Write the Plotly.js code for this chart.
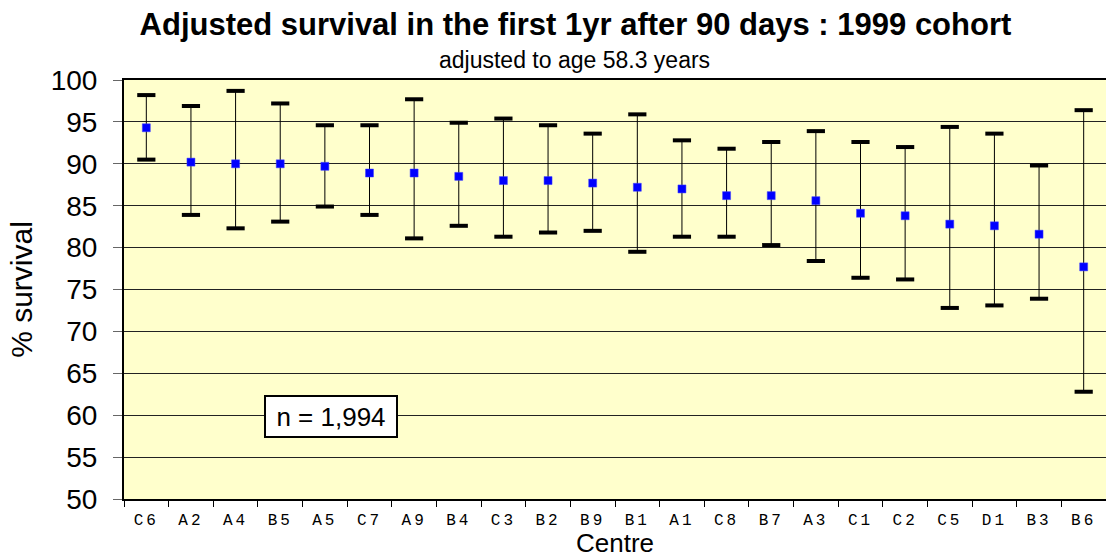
<!DOCTYPE html>
<html>
<head>
<meta charset="utf-8">
<script src="https://cdn.plot.ly/plotly-3.0.1.min.js"></script>
<style>
  html, body { margin: 0; padding: 0; background: #ffffff; }
  #chart { width: 1106px; height: 558px; }
  .xtick text { letter-spacing: 3px; }
</style>
</head>
<body>
<div id="chart"></div>
<script>
// Centres in display order
var centres = ["C6","A2","A4","B5","A5","C7","A9","B4","C3","B2","B9","B1","A1","C8","B7","A3","C1","C2","C5","D1","B3","B6"];
// Adjusted % survival (point estimate)
var survival = [94.3, 90.2, 90.0, 90.0, 89.7, 88.9, 88.9, 88.5, 88.0, 88.0, 87.7, 87.2, 87.0, 86.2, 86.2, 85.6, 84.1, 83.8, 82.8, 82.6, 81.6, 77.7];
// Upper confidence limit
var upper = [98.2, 96.9, 98.7, 97.2, 94.6, 94.6, 97.7, 94.9, 95.4, 94.6, 93.6, 95.9, 92.8, 91.8, 92.6, 93.9, 92.6, 92.0, 94.4, 93.6, 89.8, 96.4];
// Lower confidence limit
var lower = [90.5, 83.9, 82.3, 83.1, 84.9, 83.9, 81.1, 82.6, 81.3, 81.8, 82.0, 79.5, 81.3, 81.3, 80.3, 78.4, 76.4, 76.2, 72.8, 73.1, 73.9, 62.8];
// Y tick values
var yTicks = [50, 55, 60, 65, 70, 75, 80, 85, 90, 95, 100];

var plus = survival.map(function (v, i) { return upper[i] - v; });
var minus = survival.map(function (v, i) { return v - lower[i]; });

var capStyle = {
  symbol: 'line-ew', size: 13, color: '#000000',
  line: { color: '#000000', width: 4 }
};

var traces = [
  {
    type: 'scatter', mode: 'markers', x: centres, y: survival,
    marker: { symbol: 'square', size: 8, color: '#0000FF', line: { color: '#4040ff', width: 0.5 } },
    error_y: { type: 'data', symmetric: false, array: plus, arrayminus: minus,
               thickness: 1, width: 0, color: '#000000' },
    hoverinfo: 'x+y', showlegend: false
  },
  { type: 'scatter', mode: 'markers', x: centres, y: upper, marker: capStyle, hoverinfo: 'y', showlegend: false },
  { type: 'scatter', mode: 'markers', x: centres, y: lower, marker: capStyle, hoverinfo: 'y', showlegend: false }
];

var layout = {
  width: 1106, height: 558,
  margin: { l: 124, r: 0, t: 80, b: 59, pad: 0 },
  paper_bgcolor: '#ffffff',
  plot_bgcolor: '#FFFFCC',
  showlegend: false,
  font: { family: '"Liberation Sans", Arial, sans-serif', color: '#000000' },
  title: {
    text: 'Adjusted survival in the first 1yr after 90 days : 1999 cohort',
    font: { family: '"Liberation Sans", Arial, sans-serif', size: 31, weight: 'bold', color: '#000000' },
    x: 0.5203, xanchor: 'center', y: 0.957, yanchor: 'middle'
  },
  xaxis: {
    type: 'category',
    range: [-0.5, centres.length - 0.5],
    tickson: 'boundaries',
    ticks: 'outside', ticklen: 6, tickwidth: 1, tickcolor: '#000000',
    tickangle: 0,
    ticklabelstandoff: 5,
    tickfont: { family: '"Liberation Mono", "Courier New", monospace', size: 16, color: '#000000' },
    showline: true, linecolor: '#000000', linewidth: 2, mirror: true,
    showgrid: false, zeroline: false,
    title: { text: 'Centre', font: { size: 26, color: '#000000' }, standoff: 10 }
  },
  yaxis: {
    range: [50, 100],
    tickvals: yTicks,
    ticktext: yTicks.map(String),
    ticks: 'outside', ticklen: 9, tickwidth: 1, tickcolor: '#666666',
    ticklabelstandoff: 10,
    tickfont: { size: 28, color: '#000000' },
    showline: true, linecolor: '#000000', linewidth: 2, mirror: true,
    showgrid: true, gridcolor: '#222222', gridwidth: 1,
    zeroline: false,
    title: { text: '% survival', font: { size: 30, color: '#000000' }, standoff: 9 }
  },
  annotations: [
    {
      text: 'adjusted to age 58.3 years',
      xref: 'paper', yref: 'paper', x: 0.4588, y: 1.047,
      xanchor: 'center', yanchor: 'middle', showarrow: false,
      font: { size: 23, color: '#000000' }
    },
    {
      text: 'n = 1,994',
      xref: 'paper', yref: 'y', x: 0.2106, y: 59.8,
      xanchor: 'center', yanchor: 'middle', showarrow: false,
      font: { size: 26, color: '#000000' },
      bgcolor: '#ffffff', bordercolor: '#000000', borderwidth: 2, borderpad: 1,
      width: 128, height: 37
    }
  ]
};

Plotly.newPlot('chart', traces, layout, { displayModeBar: false, staticPlot: true });
</script>
</body>
</html>
